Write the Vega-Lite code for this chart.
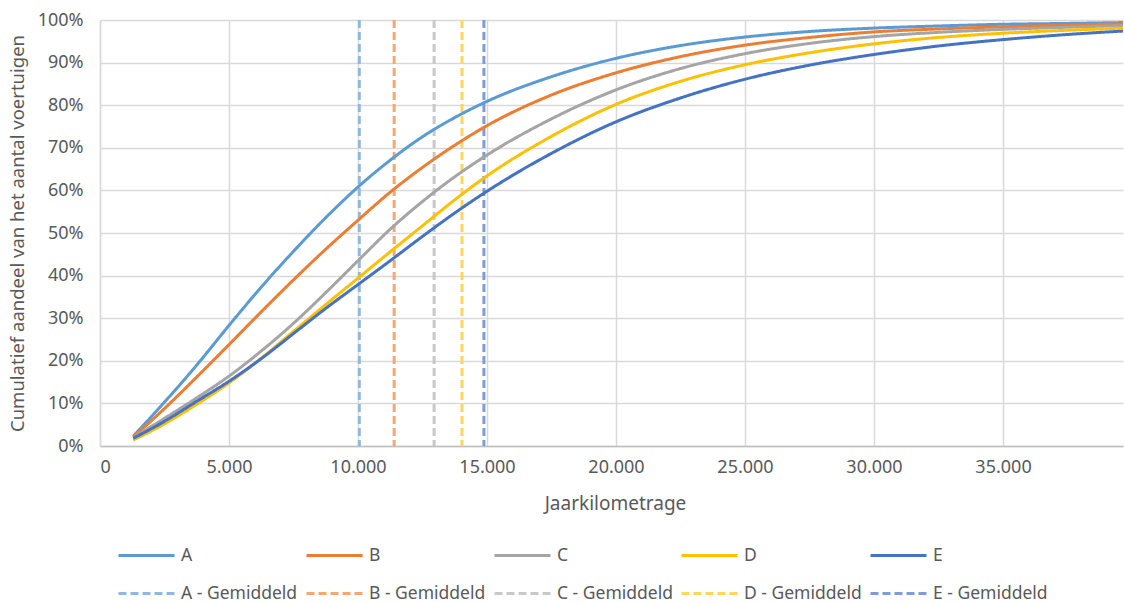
{
  "$schema": "https://vega.github.io/schema/vega-lite/v6.json",
  "width": 1023,
  "height": 426,
  "autosize": {"type": "none"},
  "padding": {"left": 100, "top": 20, "right": 1, "bottom": 157},
  "background": "white",
  "config": {"font": "Noto Sans", "view": {"stroke": null}},
  "datasets": {
    "curves": [
      {"series": "A", "km": 1290, "pct": 2.3}, {"series": "A", "km": 2500, "pct": 10.3}, {"series": "A", "km": 3750, "pct": 19.0}, {"series": "A", "km": 5000, "pct": 28.3}, {"series": "A", "km": 6250, "pct": 37.3}, {"series": "A", "km": 7500, "pct": 45.7}, {"series": "A", "km": 8750, "pct": 53.6}, {"series": "A", "km": 10000, "pct": 60.8}, {"series": "A", "km": 11250, "pct": 67.1}, {"series": "A", "km": 12500, "pct": 72.6}, {"series": "A", "km": 13750, "pct": 77.1}, {"series": "A", "km": 15000, "pct": 80.9}, {"series": "A", "km": 17500, "pct": 86.7}, {"series": "A", "km": 20000, "pct": 91.0}, {"series": "A", "km": 22500, "pct": 94.0}, {"series": "A", "km": 25000, "pct": 96.0}, {"series": "A", "km": 27500, "pct": 97.3}, {"series": "A", "km": 30000, "pct": 98.1}, {"series": "A", "km": 32500, "pct": 98.6}, {"series": "A", "km": 35000, "pct": 99.0}, {"series": "A", "km": 37500, "pct": 99.2}, {"series": "A", "km": 39650, "pct": 99.4},
      {"series": "B", "km": 1290, "pct": 2.1}, {"series": "B", "km": 2500, "pct": 8.8}, {"series": "B", "km": 3750, "pct": 16.2}, {"series": "B", "km": 5000, "pct": 23.8}, {"series": "B", "km": 6250, "pct": 31.5}, {"series": "B", "km": 7500, "pct": 39.0}, {"series": "B", "km": 8750, "pct": 46.2}, {"series": "B", "km": 10000, "pct": 53.0}, {"series": "B", "km": 11250, "pct": 59.6}, {"series": "B", "km": 12500, "pct": 65.4}, {"series": "B", "km": 13750, "pct": 70.6}, {"series": "B", "km": 15000, "pct": 75.2}, {"series": "B", "km": 17500, "pct": 82.4}, {"series": "B", "km": 20000, "pct": 87.6}, {"series": "B", "km": 22500, "pct": 91.4}, {"series": "B", "km": 25000, "pct": 94.1}, {"series": "B", "km": 27500, "pct": 95.9}, {"series": "B", "km": 30000, "pct": 97.2}, {"series": "B", "km": 32500, "pct": 97.9}, {"series": "B", "km": 35000, "pct": 98.4}, {"series": "B", "km": 37500, "pct": 98.8}, {"series": "B", "km": 39650, "pct": 99.1},
      {"series": "C", "km": 1290, "pct": 2.0}, {"series": "C", "km": 2500, "pct": 6.5}, {"series": "C", "km": 3750, "pct": 11.3}, {"series": "C", "km": 5000, "pct": 16.4}, {"series": "C", "km": 6250, "pct": 22.3}, {"series": "C", "km": 7500, "pct": 28.8}, {"series": "C", "km": 8750, "pct": 36.0}, {"series": "C", "km": 10000, "pct": 43.5}, {"series": "C", "km": 11250, "pct": 50.9}, {"series": "C", "km": 12500, "pct": 57.4}, {"series": "C", "km": 13750, "pct": 63.2}, {"series": "C", "km": 15000, "pct": 68.3}, {"series": "C", "km": 17500, "pct": 76.8}, {"series": "C", "km": 20000, "pct": 83.6}, {"series": "C", "km": 22500, "pct": 88.6}, {"series": "C", "km": 25000, "pct": 92.1}, {"series": "C", "km": 27500, "pct": 94.5}, {"series": "C", "km": 30000, "pct": 96.1}, {"series": "C", "km": 32500, "pct": 97.1}, {"series": "C", "km": 35000, "pct": 97.8}, {"series": "C", "km": 37500, "pct": 98.3}, {"series": "C", "km": 39650, "pct": 98.7},
      {"series": "D", "km": 1290, "pct": 1.4}, {"series": "D", "km": 2500, "pct": 5.2}, {"series": "D", "km": 3750, "pct": 9.8}, {"series": "D", "km": 5000, "pct": 14.8}, {"series": "D", "km": 6250, "pct": 20.6}, {"series": "D", "km": 7500, "pct": 26.9}, {"series": "D", "km": 8750, "pct": 33.2}, {"series": "D", "km": 10000, "pct": 39.4}, {"series": "D", "km": 11250, "pct": 45.6}, {"series": "D", "km": 12500, "pct": 51.7}, {"series": "D", "km": 13750, "pct": 57.8}, {"series": "D", "km": 15000, "pct": 63.4}, {"series": "D", "km": 17500, "pct": 72.7}, {"series": "D", "km": 20000, "pct": 80.2}, {"series": "D", "km": 22500, "pct": 85.6}, {"series": "D", "km": 25000, "pct": 89.5}, {"series": "D", "km": 27500, "pct": 92.3}, {"series": "D", "km": 30000, "pct": 94.4}, {"series": "D", "km": 32500, "pct": 95.9}, {"series": "D", "km": 35000, "pct": 96.9}, {"series": "D", "km": 37500, "pct": 97.6}, {"series": "D", "km": 39650, "pct": 98.1},
      {"series": "E", "km": 1290, "pct": 1.8}, {"series": "E", "km": 2500, "pct": 5.8}, {"series": "E", "km": 3750, "pct": 10.5}, {"series": "E", "km": 5000, "pct": 15.2}, {"series": "E", "km": 6250, "pct": 20.5}, {"series": "E", "km": 7500, "pct": 26.4}, {"series": "E", "km": 8750, "pct": 32.3}, {"series": "E", "km": 10000, "pct": 37.9}, {"series": "E", "km": 11250, "pct": 43.5}, {"series": "E", "km": 12500, "pct": 49.2}, {"series": "E", "km": 13750, "pct": 54.7}, {"series": "E", "km": 15000, "pct": 59.8}, {"series": "E", "km": 17500, "pct": 68.7}, {"series": "E", "km": 20000, "pct": 76.1}, {"series": "E", "km": 22500, "pct": 81.7}, {"series": "E", "km": 25000, "pct": 86.1}, {"series": "E", "km": 27500, "pct": 89.4}, {"series": "E", "km": 30000, "pct": 91.9}, {"series": "E", "km": 32500, "pct": 93.9}, {"series": "E", "km": 35000, "pct": 95.4}, {"series": "E", "km": 37500, "pct": 96.6}, {"series": "E", "km": 39650, "pct": 97.4}
    ],
    "means": [
      {"series": "A - Gemiddeld", "km": 10050},
      {"series": "B - Gemiddeld", "km": 11400},
      {"series": "C - Gemiddeld", "km": 12950},
      {"series": "D - Gemiddeld", "km": 14030},
      {"series": "E - Gemiddeld", "km": 14880}
    ]
  },
  "encoding": {
    "x": {
      "field": "km",
      "type": "quantitative",
      "scale": {"domain": [0, 39650], "nice": false, "zero": false},
      "axis": {
        "title": "Jaarkilometrage",
        "titleFont": "Noto Sans",
        "titleFontSize": 19,
        "titleFontWeight": "normal",
        "titleColor": "#595959",
        "titleX": 515,
        "titleY": 57,
        "titleAlign": "center",
        "titleBaseline": "middle",
        "values": [0, 5000, 10000, 15000, 20000, 25000, 30000, 35000],
        "labelExpr": "replace(format(datum.value, ','), ',', '.')",
        "labelFont": "Noto Sans",
        "labelFontSize": 18,
        "labelColor": "#595959",
        "labelPadding": 12,
        "ticks": false,
        "domainColor": "#BFBFBF",
        "domainWidth": 1.5,
        "grid": true,
        "gridColor": "#D9D9D9",
        "gridWidth": 1.5
      }
    },
    "color": {
      "field": "series",
      "type": "nominal",
      "scale": {
        "domain": ["A", "B", "C", "D", "E", "A - Gemiddeld", "B - Gemiddeld", "C - Gemiddeld", "D - Gemiddeld", "E - Gemiddeld"],
        "range": ["#5B9BD5", "#ED7D31", "#A5A5A5", "#FFC000", "#4472C4", "#8DB9E2", "#F3A775", "#C8C8C8", "#FFD659", "#7D9CD8"]
      },
      "legend": {
        "title": null,
        "orient": "none",
        "legendX": 17,
        "legendY": 506,
        "direction": "horizontal",
        "columns": 5,
        "padding": 0,
        "symbolType": "stroke",
        "symbolSize": 3136,
        "labelOffset": 5,
        "labelFont": "Noto Sans",
        "labelFontSize": 17.5,
        "labelColor": "#595959",
        "labelLimit": 300,
        "columnPadding": 2,
        "rowPadding": -23
      }
    },
    "strokeDash": {
      "field": "series",
      "type": "nominal",
      "scale": {
        "domain": ["A", "B", "C", "D", "E", "A - Gemiddeld", "B - Gemiddeld", "C - Gemiddeld", "D - Gemiddeld", "E - Gemiddeld"],
        "range": [[1, 0], [1, 0], [1, 0], [1, 0], [1, 0], [8, 4], [8, 4], [8, 4], [8, 4], [8, 4]]
      },
      "legend": {
        "title": null,
        "orient": "none",
        "legendX": 17,
        "legendY": 506,
        "direction": "horizontal",
        "columns": 5,
        "padding": 0,
        "symbolType": "stroke",
        "symbolSize": 3136,
        "labelOffset": 5,
        "labelFont": "Noto Sans",
        "labelFontSize": 17.5,
        "labelColor": "#595959",
        "labelLimit": 300,
        "columnPadding": 2,
        "rowPadding": -23
      }
    },
    "strokeWidth": {
      "field": "series",
      "type": "nominal",
      "scale": {
        "domain": ["A", "B", "C", "D", "E", "A - Gemiddeld", "B - Gemiddeld", "C - Gemiddeld", "D - Gemiddeld", "E - Gemiddeld"],
        "range": [3, 3, 3, 3, 3, 1.1, 1.1, 1.1, 1.1, 1.1]
      },
      "legend": {
        "title": null,
        "orient": "none",
        "legendX": 17,
        "legendY": 506,
        "direction": "horizontal",
        "columns": 5,
        "padding": 0,
        "symbolType": "stroke",
        "symbolSize": 3136,
        "labelOffset": 5,
        "labelFont": "Noto Sans",
        "labelFontSize": 17.5,
        "labelColor": "#595959",
        "labelLimit": 300,
        "columnPadding": 2,
        "rowPadding": -23
      }
    }
  },
  "layer": [
    {
      "data": {"name": "means"},
      "mark": {"type": "rule"}
    },
    {
      "data": {"name": "curves"},
      "mark": {"type": "line", "interpolate": "monotone"},
      "encoding": {
        "y": {
          "field": "pct",
          "type": "quantitative",
          "scale": {"domain": [0, 100], "nice": false},
          "axis": {
            "title": "Cumulatief aandeel van het aantal voertuigen",
            "titleFont": "Noto Sans",
            "titleFontSize": 18.5,
            "titleFontWeight": "normal",
            "titleColor": "#595959",
            "titleX": -73,
            "titleY": 213,
            "titleAngle": -90,
            "titleAlign": "center",
            "titleBaseline": "bottom",
            "values": [0, 10, 20, 30, 40, 50, 60, 70, 80, 90, 100],
            "labelExpr": "datum.value + '%'",
            "labelFont": "Noto Sans",
            "labelFontSize": 18,
            "labelColor": "#595959",
            "labelPadding": 17,
            "ticks": false,
            "domainColor": "#D9D9D9",
            "domainWidth": 1.5,
            "grid": true,
            "gridColor": "#D9D9D9",
            "gridWidth": 1.5
          }
        }
      }
    }
  ]
}
